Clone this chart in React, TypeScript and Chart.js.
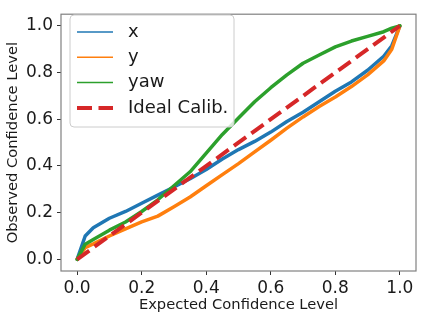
import React, { useEffect, useRef } from "react";
import { Chart, registerables } from "chart.js";

Chart.register(...registerables);

const expected = [0, 0.025, 0.05, 0.1, 0.15, 0.2, 0.25, 0.3, 0.35, 0.4, 0.45, 0.5, 0.55, 0.6, 0.65, 0.7, 0.75, 0.8, 0.85, 0.9, 0.95, 0.975, 1.0];
const observedX = [0, 0.1, 0.135, 0.176, 0.205, 0.24, 0.275, 0.31, 0.345, 0.385, 0.43, 0.47, 0.505, 0.545, 0.59, 0.63, 0.675, 0.72, 0.76, 0.81, 0.87, 0.915, 1.0];
const observedY = [0, 0.05, 0.066, 0.1, 0.13, 0.16, 0.185, 0.225, 0.267, 0.315, 0.363, 0.41, 0.46, 0.51, 0.562, 0.61, 0.655, 0.695, 0.74, 0.79, 0.85, 0.9, 1.0];
const observedYaw = [0, 0.065, 0.085, 0.125, 0.16, 0.205, 0.255, 0.315, 0.375, 0.455, 0.535, 0.605, 0.675, 0.735, 0.79, 0.84, 0.875, 0.91, 0.935, 0.955, 0.975, 0.99, 1.0];
const idealX = [0, 1];
const idealY = [0, 1];

const seriesLabels = ["x", "y", "yaw", "Ideal Calib."];
const seriesColors = ["#1f77b4", "#ff7f0e", "#2ca02c", "#d62728"];
const tickValues = [0, 0.2, 0.4, 0.6, 0.8, 1.0];
const xTitle = "Expected Confidence Level";
const yTitle = "Observed Confidence Level";

const FONT = "'DejaVu Sans', sans-serif";

const toPoints = (xs: number[], ys: number[]) => xs.map((x, i) => ({ x, y: ys[i] }));

const framePlugin = {
  id: "frame",
  afterDraw(chart: any) {
    const { ctx, chartArea } = chart;
    ctx.save();
    ctx.strokeStyle = "#808080";
    ctx.lineWidth = 1.2;
    ctx.strokeRect(chartArea.left, chartArea.top, chartArea.right - chartArea.left, chartArea.bottom - chartArea.top);
    ctx.restore();
  },
};

const legendPlugin = {
  id: "insideLegend",
  afterDraw(chart: any) {
    const { ctx } = chart;
    const x0 = 70, y0 = 15, w = 164, h = 112, r = 4;
    ctx.save();
    ctx.beginPath();
    ctx.moveTo(x0 + r, y0);
    ctx.lineTo(x0 + w - r, y0);
    ctx.arcTo(x0 + w, y0, x0 + w, y0 + r, r);
    ctx.lineTo(x0 + w, y0 + h - r);
    ctx.arcTo(x0 + w, y0 + h, x0 + w - r, y0 + h, r);
    ctx.lineTo(x0 + r, y0 + h);
    ctx.arcTo(x0, y0 + h, x0, y0 + h - r, r);
    ctx.lineTo(x0, y0 + r);
    ctx.arcTo(x0, y0, x0 + r, y0, r);
    ctx.closePath();
    ctx.fillStyle = "rgba(255,255,255,0.8)";
    ctx.fill();
    ctx.strokeStyle = "#cccccc";
    ctx.lineWidth = 1;
    ctx.stroke();
    chart.data.datasets.forEach((ds: any, i: number) => {
      const cy = 32 + i * 25.3;
      ctx.beginPath();
      ctx.strokeStyle = ds.borderColor;
      const dashed = !!ds.borderDash && ds.borderDash.length > 0;
      ctx.lineWidth = dashed ? ds.borderWidth : 1.5;
      ctx.setLineDash(dashed ? ds.borderDash : []);
      ctx.lineCap = "butt";
      ctx.moveTo(77, cy);
      ctx.lineTo(113, cy);
      ctx.stroke();
      ctx.setLineDash([]);
      ctx.fillStyle = "#1a1a1a";
      ctx.font = `18px ${FONT}`;
      ctx.textBaseline = "middle";
      ctx.textAlign = "left";
      ctx.fillText(ds.label, 128, cy);
    });
    ctx.restore();
  },
};

export default function App() {
  const canvasRef = useRef<HTMLCanvasElement | null>(null);

  useEffect(() => {
    if (!canvasRef.current) return;
    const seriesData = [
      toPoints(expected, observedX),
      toPoints(expected, observedY),
      toPoints(expected, observedYaw),
      toPoints(idealX, idealY),
    ];
    const chart = new Chart(canvasRef.current, {
      type: "line",
      data: {
        datasets: seriesData.map((d, i) => ({
          label: seriesLabels[i],
          data: d,
          borderColor: seriesColors[i],
          backgroundColor: seriesColors[i],
          borderWidth: i === 3 ? 4 : 3.5,
          borderDash: i === 3 ? [15, 6.5] : [],
          borderJoinStyle: "round",
          borderCapStyle: i === 3 ? "butt" : "round",
          pointRadius: 0,
          tension: 0,
          fill: false,
          order: 3 - i,
        })),
      },
      options: {
        animation: false,
        responsive: false,
        layout: { padding: { top: 6, right: 7, left: 0, bottom: 0 } },
        plugins: { legend: { display: false }, tooltip: { enabled: false } },
        scales: {
          x: {
            type: "linear",
            min: -0.05,
            max: 1.05,
            afterBuildTicks: (scale: any) => {
              scale.ticks = tickValues.map((v) => ({ value: v }));
            },
            afterFit: (scale: any) => {
              scale.height = 50;
            },
            ticks: {
              color: "#1a1a1a",
              font: { family: FONT, size: 17 },
              padding: 3,
              maxRotation: 0,
              callback: (v: any) => Number(v).toFixed(1),
            },
            grid: { display: true, drawOnChartArea: false, drawTicks: true, tickLength: 4, color: "#333" },
            border: { display: false },
            title: {
              display: true,
              text: xTitle,
              color: "#1a1a1a",
              font: { family: FONT, size: 14.7 },
              padding: { top: 0, bottom: 7 },
            },
          },
          y: {
            type: "linear",
            min: -0.05,
            max: 1.05,
            afterBuildTicks: (scale: any) => {
              scale.ticks = tickValues.map((v) => ({ value: v }));
            },
            afterFit: (scale: any) => {
              scale.width = 61;
            },
            ticks: {
              color: "#1a1a1a",
              font: { family: FONT, size: 17 },
              padding: 4,
              callback: (v: any) => Number(v).toFixed(1),
            },
            grid: { display: true, drawOnChartArea: false, drawTicks: true, tickLength: 4, color: "#333" },
            border: { display: false },
            title: {
              display: true,
              text: yTitle,
              color: "#1a1a1a",
              font: { family: FONT, size: 14.7 },
              padding: { top: 4.5, bottom: 0 },
            },
          },
        },
      },
      plugins: [framePlugin, legendPlugin],
    } as any);
    return () => chart.destroy();
  }, []);

  return (
    <div style={{ position: "absolute", left: 0, top: 0, width: 423, height: 321, background: "#fff" }}>
      <canvas ref={canvasRef} width={423} height={321} style={{ display: "block" }} />
    </div>
  );
}
